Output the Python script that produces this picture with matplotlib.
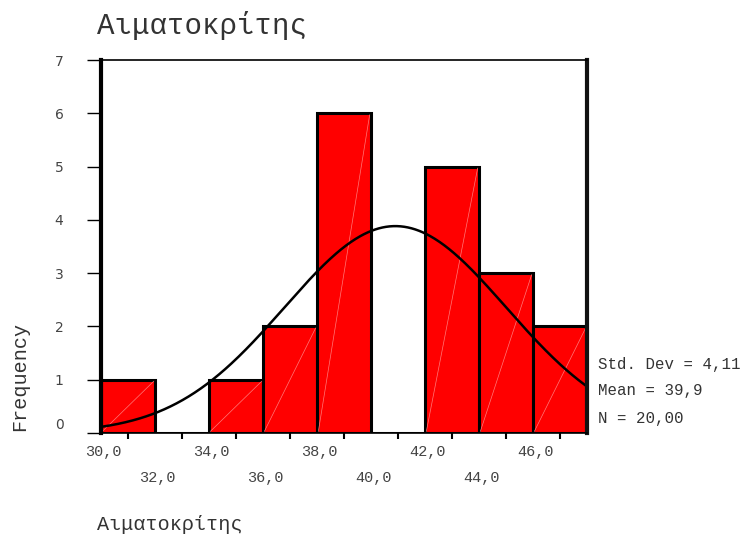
import numpy as np
import matplotlib
matplotlib.use("Agg")
import matplotlib.pyplot as plt
from matplotlib.transforms import ScaledTranslation

# Histogram of hematocrit values (bin centres, width 2)
bin_centers = [30, 32, 34, 36, 38, 40, 42, 44, 46]
frequencies = [1, 0, 1, 2, 6, 0, 5, 3, 2]
bin_width = 2.0
tick_labels = ["30,0", "32,0", "34,0", "36,0", "38,0", "40,0", "42,0", "44,0", "46,0"]
y_ticks = [0, 1, 2, 3, 4, 5, 6, 7]

# Summary statistics shown beside the plot
std_dev = 4.11
mean = 39.9
n_total = 20
stats_lines = ["Std. Dev = 4,11", "Mean = 39,9", "N = 20,00"]

title_text = "Αιματοκρίτης"
x_label = "Αιματοκρίτης"
y_label = "Frequency"

mono = "Liberation Mono"
text_color = "#333333"

fig = plt.figure(figsize=(7.46, 5.35), dpi=100)
ax = fig.add_axes([101 / 746, 1 - 433 / 535, 486 / 746, 373 / 535])

x_min = bin_centers[0] - bin_width / 2
x_max = bin_centers[-1] + bin_width / 2
ax.set_xlim(x_min, x_max)
ax.set_ylim(0, 7)

# Bars
ax.bar(bin_centers, frequencies, width=bin_width, color="#ff0000",
       edgecolor="black", linewidth=2.2, align="center", zorder=2)
# faint diagonal streak inside each bar
for c, f in zip(bin_centers, frequencies):
    if f > 0:
        ax.plot([c - bin_width / 2 + 0.05, c + bin_width / 2 - 0.05], [0.03, f - 0.03],
                color="#ff7a7a", lw=0.5, zorder=3)

# Fitted normal curve scaled to counts
xs = np.linspace(x_min, x_max, 400)
ys = n_total * bin_width * np.exp(-0.5 * ((xs - mean) / std_dev) ** 2) / (std_dev * np.sqrt(2 * np.pi))
ax.plot(xs, ys, color="black", lw=1.8, zorder=4)

# Spines
ax.spines["left"].set_linewidth(3.0)
ax.spines["right"].set_linewidth(3.0)
ax.spines["right"].set_color("#111111")
ax.spines["top"].set_linewidth(1.2)
ax.spines["bottom"].set_linewidth(1.2)
for s in ax.spines.values():
    s.set_zorder(5)

# Y axis
ax.set_yticks(y_ticks)
ax.set_yticklabels([str(v) for v in y_ticks], fontfamily="DejaVu Sans",
                   fontsize=10, color="#444444")
ax.tick_params(axis="y", direction="out", length=10, width=1.0, pad=17)
for lbl in ax.get_yticklabels():
    if lbl.get_text() == "0":
        lbl.set_transform(lbl.get_transform() + ScaledTranslation(0, 7 / 72, fig.dpi_scale_trans))

# X axis: ticks at bin centres, staggered labels set a bit to the left
ax.set_xticks(bin_centers)
ax.set_xticklabels([])
ax.tick_params(axis="x", direction="out", length=4, width=1.5)
for i, (c, t) in enumerate(zip(bin_centers, tick_labels)):
    y_off = -13.5 if i % 2 == 0 else -32.5
    ax.annotate(t, xy=(c - 0.9, 0), xycoords=("data", "axes fraction"),
                xytext=(0, y_off), textcoords="offset points",
                ha="center", va="center", fontfamily=mono, fontsize=11, color="#444444")

# Titles and axis labels
fig.text(97 / 746, 1 - 25 / 535, title_text, fontfamily=mono, fontsize=21,
         ha="left", va="center", color=text_color)
fig.text(97 / 746, 1 - 525 / 535, x_label, fontfamily=mono, fontsize=14.5,
         ha="left", va="center", color=text_color)
fig.text(20 / 746, 1 - 376 / 535, y_label, fontfamily=mono, fontsize=14.5,
         ha="center", va="center", rotation=90, color=text_color)

# Statistics block
for line, ypx in zip(stats_lines, [364, 391, 419]):
    fig.text(598 / 746, 1 - ypx / 535, line, fontfamily=mono, fontsize=11.3,
             ha="left", va="center", color=text_color)

fig.savefig("out.png", dpi=100)
